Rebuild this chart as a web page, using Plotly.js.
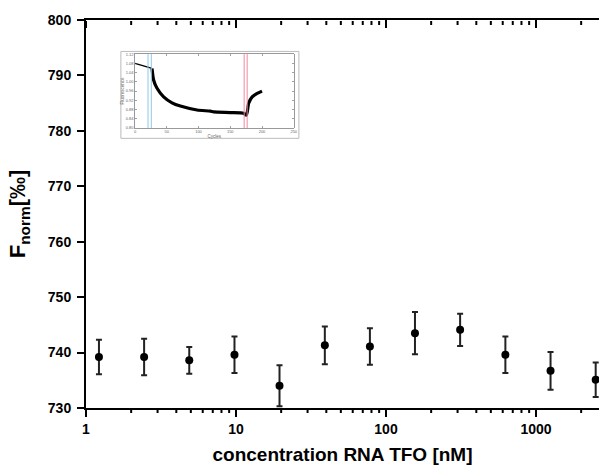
<!DOCTYPE html>
<html>
<head>
<meta charset="utf-8">
<script src="https://cdn.plot.ly/plotly-3.0.1.min.js"></script>
<style>html,body{margin:0;padding:0;background:#fff;}#chart{width:599px;height:468px;}</style>
</head>
<body>
<div id="chart"></div>
<script>
// Main data: concentration (nM), Fnorm (‰), error
const concentration = [1.22, 2.44, 4.88, 9.77, 19.5, 39.1, 78.1, 156, 312, 625, 1250, 2500];
const fnorm = [739.2, 739.2, 738.6, 739.6, 734.0, 741.3, 741.1, 743.5, 744.1, 739.6, 736.7, 735.1];
const fnormErr = [3.1, 3.3, 2.4, 3.3, 3.7, 3.4, 3.3, 3.8, 2.9, 3.3, 3.4, 3.1];
const yTicks = [730, 740, 750, 760, 770, 780, 790, 800];
const xTicks = [1, 10, 100, 1000];
const xMinorTicks = [2, 3, 4, 5, 6, 7, 8, 9, 20, 30, 40, 50, 60, 70, 80, 90, 200, 300, 400, 500, 600, 700, 800, 900, 2000];

// Inset trace (MST time trace)
const insetCycles = [0, 26.8, 29.3, 34.7, 45.1, 58.3, 71.4, 97.8, 118.7, 124, 150, 171, 175.5, 179, 184.5, 192.4, 200];
const insetFluor = [1.080, 1.058, 1.008, 0.972, 0.935, 0.909, 0.895, 0.878, 0.873, 0.870, 0.867, 0.864, 0.856, 0.907, 0.935, 0.950, 0.960];
const insetBlue = [20.5, 25.7];
const insetRed = [171.9, 176.6];
const insetXTicks = [0, 50, 100, 150, 200, 250];

const font = 'Liberation Sans, Arial, sans-serif';
const xRange = [0, 3.42];

const traces = [
  {
    x: concentration, y: fnorm, type: 'scatter', mode: 'markers',
    marker: {color: '#000', size: 8},
    error_y: {type: 'data', array: fnormErr, visible: true, color: '#222', thickness: 2, width: 3},
    xaxis: 'x', yaxis: 'y', hoverinfo: 'skip'
  },
  {
    x: insetCycles.slice(0, 2), y: insetFluor.slice(0, 2), type: 'scatter', mode: 'lines',
    line: {color: '#000', width: 1.3}, xaxis: 'x3', yaxis: 'y3', hoverinfo: 'skip'
  },
  {
    x: insetCycles.slice(1), y: insetFluor.slice(1), type: 'scatter', mode: 'lines',
    line: {color: '#000', width: 3.2, shape: 'spline', smoothing: 0.6}, xaxis: 'x3', yaxis: 'y3', hoverinfo: 'skip'
  }
];
// invisible trace so the mirrored top axis line is drawn
traces.push({x: [1], y: [760], xaxis: 'x2', yaxis: 'y', type: 'scatter', mode: 'markers', marker: {opacity: 0}, hoverinfo: 'skip'});

const shapes = [
  {type: 'rect', xref: 'paper', yref: 'paper', x0: 0.068, x1: 0.415, y0: 0.695, y1: 0.919,
   line: {color: '#bbb', width: 1}, fillcolor: 'rgba(0,0,0,0)', layer: 'below'}
];
insetBlue.forEach(v => shapes.push({type: 'line', xref: 'x3', yref: 'y3 domain', x0: v, x1: v, y0: 0, y1: 1, line: {color: '#8fc8e8', width: 1}}));
insetRed.forEach(v => shapes.push({type: 'line', xref: 'x3', yref: 'y3 domain', x0: v, x1: v, y0: 0, y1: 1, line: {color: '#f08aa0', width: 1}}));
// log-axis tick marks (bottom outside, top inside), placed through the x axis scale
function tickShape(v, anchor, len) {
  return {type: 'line', xref: 'x', yref: 'paper', ysizemode: 'pixel', yanchor: anchor,
          x0: v, x1: v, y0: -1, y1: -1 - len, line: {color: '#000', width: 2}, layer: 'above'};
}
xTicks.forEach(v => { shapes.push(tickShape(v, 0, 7)); shapes.push(tickShape(v, 1, 7)); });
xMinorTicks.forEach(v => { shapes.push(tickShape(v, 0, 4)); shapes.push(tickShape(v, 1, 4)); });

const layout = {
  width: 599, height: 468,
  margin: {l: 86, r: 0, t: 20, b: 60},
  paper_bgcolor: '#fff', plot_bgcolor: 'rgba(0,0,0,0)',
  showlegend: false,
  font: {family: font, color: '#000'},
  xaxis: {
    type: 'log', range: xRange,
    tickmode: 'array', tickvals: xTicks, ticktext: xTicks.map(String),
    ticks: 'outside', ticklen: 7, tickwidth: 2, tickcolor: '#000',
    showline: true, linewidth: 2, linecolor: '#000', showgrid: false, zeroline: false,
    tickfont: {family: font, size: 14, weight: 'bold', color: '#000'},
    title: {text: 'concentration RNA TFO [nM]', font: {family: font, size: 19, weight: 'bold', color: '#000'}, standoff: 12}
  },
  xaxis2: {
    type: 'log', range: xRange, overlaying: 'x', side: 'top', anchor: 'y',
    tickmode: 'array', tickvals: xTicks, showticklabels: false,
    ticks: 'inside', ticklen: 7, tickwidth: 2, tickcolor: '#000',
    showline: true, linewidth: 2, linecolor: '#000', showgrid: false, zeroline: false
  },
  yaxis: {
    range: [730, 800], tickmode: 'array', tickvals: yTicks, ticktext: yTicks.map(String),
    ticks: 'outside', ticklen: 7, tickwidth: 2, tickcolor: '#000',
    ticklabelstandoff: 3,
    showline: true, linewidth: 2, linecolor: '#000', showgrid: false, zeroline: false,
    tickfont: {family: font, size: 14, weight: 'bold', color: '#000'},
    title: {text: 'F<sub>norm</sub>[‰]', font: {family: font, size: 22, weight: 'bold', color: '#000'}, standoff: 16}
  },
  xaxis3: {
    domain: [0.0955, 0.405], anchor: 'y3', range: [0, 250],
    tickmode: 'array', tickvals: insetXTicks, ticks: 'inside', ticklen: 2, tickwidth: 0.5, tickcolor: '#444',
    showline: true, mirror: 'ticks', linewidth: 0.6, linecolor: '#555', showgrid: false, zeroline: false,
    tickfont: {size: 4, color: '#666'},
    title: {text: 'Cycles', font: {size: 4.5, color: '#666'}, standoff: 1}
  },
  yaxis3: {
    domain: [0.7216, 0.912], anchor: 'x3', range: [0.80, 1.12],
    dtick: 0.04, tickformat: '.2f', ticks: 'inside', ticklen: 2, tickwidth: 0.5, tickcolor: '#444',
    showline: true, mirror: 'ticks', linewidth: 0.6, linecolor: '#555', showgrid: false, zeroline: false,
    tickfont: {size: 4, color: '#666'},
    title: {text: 'Fluorescence', font: {size: 4.5, color: '#666'}, standoff: 1}
  },
  shapes: shapes
};

Plotly.newPlot('chart', traces, layout, {staticPlot: true});
</script>
</body>
</html>
